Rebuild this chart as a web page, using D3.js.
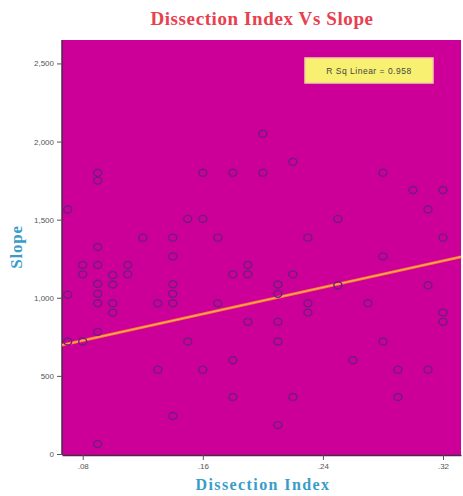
<!DOCTYPE html>
<html>
<head>
<meta charset="utf-8">
<script src="https://cdn.jsdelivr.net/npm/d3@7"></script>
<style>
  body { margin: 0; background: #fff; }
  svg { display: block; }
</style>
</head>
<body>
<div id="chart"></div>
<script>
// dissection index (x) and slope (y)
var dissection = [
  0.09, 0.09, 0.16, 0.18, 0.20, 0.22, 0.20, 0.28,
  0.30, 0.32,
  0.07, 0.31,
  0.15, 0.16, 0.25,
  0.12, 0.14, 0.17, 0.23, 0.32,
  0.09,
  0.14, 0.28,
  0.08, 0.09, 0.11, 0.19,
  0.08, 0.10, 0.11, 0.18, 0.19, 0.22,
  0.09, 0.10, 0.14, 0.21, 0.25, 0.31,
  0.07, 0.09, 0.14, 0.21,
  0.09, 0.10, 0.13, 0.14, 0.17, 0.23, 0.27,
  0.10, 0.23, 0.32,
  0.19, 0.21, 0.32,
  0.09,
  0.07, 0.08, 0.15, 0.21, 0.28,
  0.18, 0.26,
  0.13, 0.16, 0.29, 0.31,
  0.18, 0.22, 0.29,
  0.14,
  0.21,
  0.09
];
var slope = [
  1800, 1750, 1800, 1800, 2050, 1870, 1800, 1800,
  1690, 1690,
  1565, 1565,
  1505, 1505, 1505,
  1385, 1385, 1385, 1385, 1385,
  1325,
  1265, 1265,
  1210, 1210, 1210, 1210,
  1150, 1145, 1150, 1150, 1150, 1150,
  1090, 1085, 1087, 1085, 1080, 1080,
  1020, 1025, 1025, 1025,
  965, 965, 965, 965, 965, 965, 965,
  905, 905, 905,
  846, 846, 846,
  782,
  720, 720, 720, 720, 720,
  600, 600,
  540, 540, 540, 540,
  365, 365, 365,
  243,
  185,
  64
];
// fitted linear line, ends at the plot edges
var fitX = [0.0662, 0.332];
var fitY = [697, 1262];
var yTicks = [0, 500, 1000, 1500, 2000, 2500];
var xTicks = [0.08, 0.16, 0.24, 0.32];
var rsqLabel = "R Sq Linear = 0.958";

var width = 463, height = 496;
var plot = { left: 62, right: 461, top: 40, bottom: 455 };

var svg = d3.select("#chart").append("svg")
    .attr("width", width)
    .attr("height", height);

var x = d3.scaleLinear().domain([0.0662, 0.332]).range([plot.left, plot.right]);
var y = d3.scaleLinear().domain([0, 2650]).range([454, plot.top]);

// plot background
svg.append("rect")
    .attr("x", plot.left)
    .attr("y", plot.top)
    .attr("width", plot.right - plot.left)
    .attr("height", plot.bottom - plot.top)
    .attr("fill", "#cc0099");

// axes
var yAxis = svg.append("g")
    .attr("transform", "translate(" + plot.left + ",0)")
    .call(d3.axisLeft(y).tickValues(yTicks).tickFormat(d3.format(",")).tickSize(5).tickSizeOuter(0));
var xAxis = svg.append("g")
    .attr("transform", "translate(0," + plot.bottom + ")")
    .call(d3.axisBottom(x).tickValues(xTicks)
        .tickFormat(function(d) { return d3.format(".2f")(d).replace(/^0/, ""); })
        .tickSize(5).tickSizeOuter(0));

[yAxis, xAxis].forEach(function(a) {
    a.select(".domain").attr("stroke", "#4a2a4a").attr("stroke-width", 1.5);
    a.selectAll(".tick line").attr("stroke", "#555");
    a.selectAll(".tick text")
        .attr("fill", "#555")
        .style("font-family", "Liberation Sans, Arial, sans-serif")
        .style("font-size", "8px");
});
yAxis.select(".domain").attr("d", "M0," + plot.top + "V" + plot.bottom);

// fit line
svg.append("line")
    .attr("x1", x(fitX[0])).attr("y1", y(fitY[0]))
    .attr("x2", x(fitX[1])).attr("y2", y(fitY[1]))
    .attr("stroke", "#ff7a2e")
    .attr("stroke-width", 3);
svg.append("line")
    .attr("x1", x(fitX[0])).attr("y1", y(fitY[0]))
    .attr("x2", x(fitX[1])).attr("y2", y(fitY[1]))
    .attr("stroke", "#ffb060")
    .attr("stroke-width", 1);

// points
svg.append("g").selectAll("ellipse")
    .data(d3.range(dissection.length))
    .enter().append("ellipse")
    .attr("cx", function(i) { return x(dissection[i]); })
    .attr("cy", function(i) { return y(slope[i]); })
    .attr("rx", 4)
    .attr("ry", 3.5)
    .attr("fill", "none")
    .attr("stroke", "#701a80")
    .attr("stroke-width", 1.4);

// R sq box
svg.append("rect")
    .attr("x", 305).attr("y", 58)
    .attr("width", 128).attr("height", 25)
    .attr("fill", "#f8f070")
    .attr("stroke", "#f0d0a0")
    .attr("stroke-width", 1.5);
svg.append("text")
    .attr("x", 369).attr("y", 73.5)
    .attr("text-anchor", "middle")
    .attr("fill", "#444")
    .style("font-family", "Liberation Sans, Arial, sans-serif")
    .style("font-size", "8.5px")
    .style("letter-spacing", "0.5px")
    .text(rsqLabel);

// titles
svg.append("text")
    .attr("x", 262).attr("y", 25)
    .attr("text-anchor", "middle")
    .attr("fill", "#e8404f")
    .style("font-family", "Liberation Serif, Times New Roman, serif")
    .style("font-weight", "bold")
    .style("font-size", "19px")
    .style("letter-spacing", "0.6px")
    .text("Dissection Index Vs Slope");

svg.append("text")
    .attr("x", 263).attr("y", 490)
    .attr("text-anchor", "middle")
    .attr("fill", "#3a9cc8")
    .style("font-family", "Liberation Serif, Times New Roman, serif")
    .style("font-weight", "bold")
    .style("font-size", "16px")
    .style("letter-spacing", "1.4px")
    .text("Dissection Index");

svg.append("text")
    .attr("transform", "translate(22,247) rotate(-90)")
    .attr("text-anchor", "middle")
    .attr("fill", "#3a9cc8")
    .style("font-family", "Liberation Serif, Times New Roman, serif")
    .style("font-weight", "bold")
    .style("font-size", "17px")
    .style("letter-spacing", "0.8px")
    .text("Slope");
</script>
</body>
</html>
